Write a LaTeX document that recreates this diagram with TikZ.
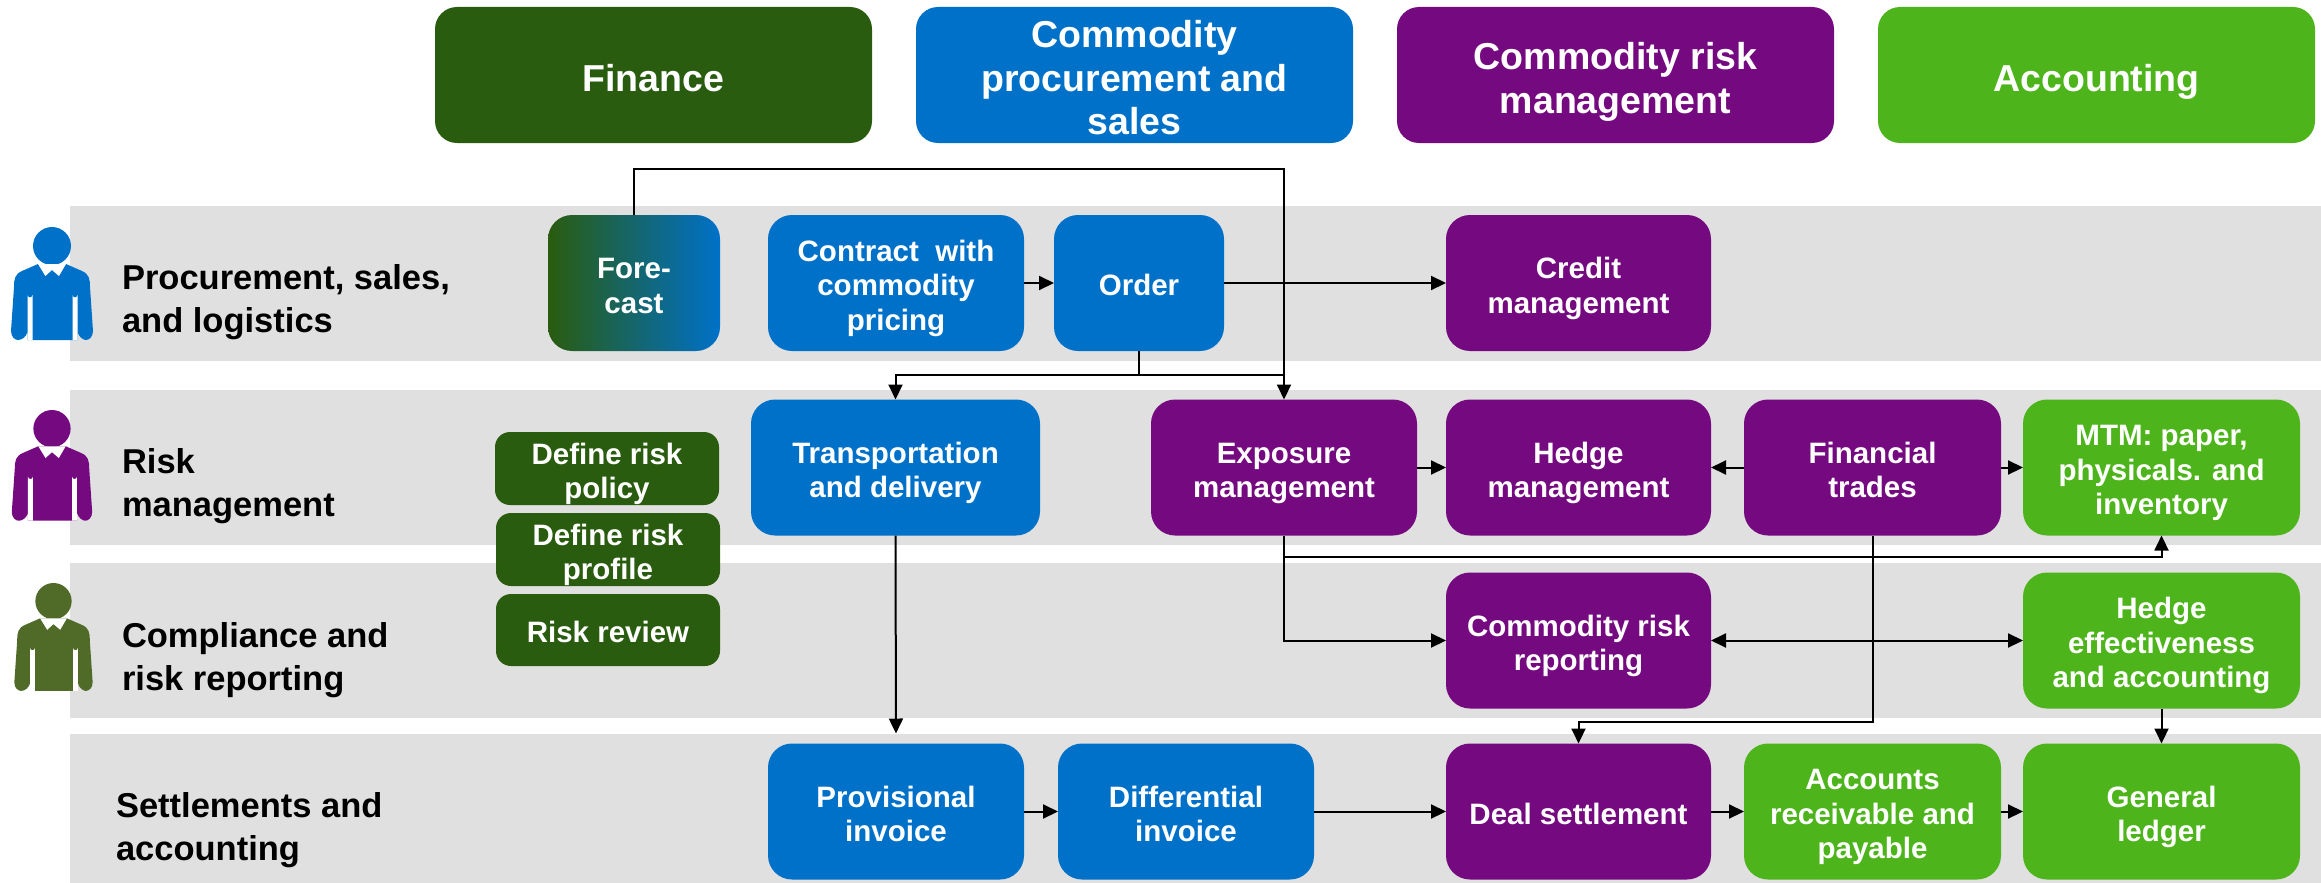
\documentclass[tikz,border=0pt]{standalone}
\usepackage{fontspec}
\setmainfont{Liberation Sans}
\usetikzlibrary{arrows.meta,positioning}
\definecolor{fingreen}{HTML}{2A5C0F}
\definecolor{procblue}{HTML}{0071C9}
\definecolor{riskpurple}{HTML}{750A80}
\definecolor{acctgreen}{HTML}{4DB51B}
\definecolor{bandgray}{HTML}{E0E0E0}
\definecolor{mangreen}{HTML}{506A28}
\newcommand{\lt}{\rule{0pt}{1.08em}}
\tikzstyle{bt} = [rectangle, text=white, align=center, inner sep=0pt, outer sep=0pt,
    rounded corners=24pt, minimum height=136pt,
    font=\fontsize{29.5}{34.5}\selectfont\bfseries,
    execute at end node={\rule[-6.3pt]{0pt}{0pt}}]
\tikzstyle{small} = [bt, fill=fingreen, rounded corners=15pt, minimum width=224pt, minimum height=73pt]
\tikzstyle{head} = [bt, rounded corners=22pt, minimum width=437pt, minimum height=136pt,
    font=\fontsize{37.5}{43.5}\selectfont\bfseries,
    execute at end node={\rule[-8pt]{0pt}{0pt}}]
\tikzstyle{lane} = [anchor=west, align=left, inner sep=0pt, outer sep=0pt,
    font=\fontsize{34.5}{43}\selectfont\bfseries]
\tikzset{person/.pic={
  \fill[pic actions] (0,19) ellipse (19 and 19);
  \fill[pic actions] (-14,37) -- (-30,44) .. controls (-37,47) and (-38,52) .. (-38,60) -- (-41,104)
    .. controls (-41,110) and (-37,113) .. (-34,113) .. controls (-30,113) and (-26,110) .. (-24.5,105)
    -- (-24.5,113) -- (25.5,113) -- (25.5,105) .. controls (27,110) and (31,113) .. (34,113)
    .. controls (37,113) and (41,110) .. (41,104) -- (38,60) .. controls (38,52) and (37,47) .. (30,44)
    -- (14,37) -- cycle;
  \fill[white] (-14,37) -- (-6.6,49) -- (0,43) -- (7,49) -- (14,37) -- cycle;
  \fill[white] (-24.5,113) -- (-24.5,68) arc (180:0:2.5) -- (-19.5,113) -- cycle;
  \fill[white] (20.5,113) -- (20.5,68) arc (180:0:2.5) -- (25.5,113) -- cycle;
}}

\begin{document}
\begin{tikzpicture}[x=1pt,y=-1pt,->,>={Stealth[length=15pt,width=14pt,inset=0pt]},line width=2pt]

  \useasboundingbox (0,0) rectangle (2321,883);

  % lanes
  \fill[bandgray] (70,206) rectangle (2321,361);
  \fill[bandgray] (70,390) rectangle (2321,545);
  \fill[bandgray] (70,563) rectangle (2321,718);
  \fill[bandgray] (70,734) rectangle (2321,883);

  \pic[fill=procblue] (man1) at (52,227) {person};
  \pic[fill=riskpurple,scale=.98] (man2) at (52,410) {person};
  \pic[fill=mangreen,scale=.955] (man3) at (53.5,583) {person};

  \node[lane] (lane1) at (122,302) {Procurement, sales,\\and logistics};
  \node[lane] (lane2) at (122,486.5) {Risk\\management};
  \node[lane] (lane3) at (122,660) {Compliance and\\risk reporting};
  \node[lane] (lane4) at (116,830) {Settlements and\\accounting};

  % headers
  \node[head,fill=fingreen]   (finance) at (653.5,75) {\lt Finance};
  \node[head,fill=procblue]   (procure) [right=44pt of finance] {\lt Commodity\\procurement and\\sales};
  \node[head,fill=riskpurple] (riskhd)  [right=44pt of procure] {\lt Commodity risk\\management};
  \node[head,fill=acctgreen]  (acct)    [right=44pt of riskhd] {\lt Accounting};

  % first lane
  \node[bt,left color=fingreen,right color=procblue,minimum width=172pt] (forecast) at (634,283) {\lt Fore-\\cast};
  \node[bt,fill=procblue,minimum width=256pt] (contract) at (896,283) {\lt Contract~ with\\commodity\\pricing};
  \node[bt,fill=procblue,minimum width=170pt] (order) [right=30pt of contract] {\lt Order};
  \node[bt,fill=riskpurple,minimum width=265pt] (credit) [right=222pt of order] {\lt Credit\\management};

  % second lane
  \node[small] (policy) at (607,468.5) {\lt Define risk\\policy};
  \node[small] (profile) at (608,549.5) {\lt Define risk\\profile};
  \node[small,minimum height=72pt] (review) at (608,630) {\lt Risk review};
  \node[bt,fill=procblue,minimum width=289pt] (transport) at (895.5,467.5) {\lt Transportation\\and delivery};
  \node[bt,fill=riskpurple,minimum width=266pt] (exposure) at (1284,467.5) {\lt Exposure\\management};
  \node[bt,fill=riskpurple,minimum width=265pt] (hedgem) [right=29pt of exposure] {\lt Hedge\\management};
  \node[bt,fill=riskpurple,minimum width=257pt] (trades) [right=33pt of hedgem] {\lt Financial\\trades};
  \node[bt,fill=acctgreen,minimum width=277pt] (mtm) [right=22pt of trades] {\lt MTM: paper,\\physicals. and\\inventory};

  % third lane
  \node[bt,fill=riskpurple,minimum width=265pt] (reporting) [below=37pt of hedgem] {\lt Commodity risk\\reporting};
  \node[bt,fill=acctgreen,minimum width=277pt] (effect) [below=37pt of mtm] {\lt Hedge\\effectiveness\\and accounting};

  % fourth lane
  \node[bt,fill=riskpurple,minimum width=265pt] (deal) [below=35pt of reporting] {\lt Deal settlement};
  \node[bt,fill=acctgreen,minimum width=257pt] (payable) [right=33pt of deal] {\lt Accounts\\receivable and\\payable};
  \node[bt,fill=acctgreen,minimum width=277pt] (ledger) [right=22pt of payable] {\lt General\\ledger};
  \node[bt,fill=procblue,minimum width=256pt] (differ) [left=132pt of deal] {\lt Differential\\invoice};
  \node[bt,fill=procblue,minimum width=256pt] (provis) [left=34pt of differ] {\lt Provisional\\invoice};

  \coordinate (toptap) at (forecast.north |- 0,169);
  \coordinate (ordertap) at (order.south |- 0,375);
  \coordinate (exptap) at (exposure.south |- 0,557);
  \coordinate (tradetap) at (trades.south |- 0,722);

  \draw (forecast.north) -- (toptap) -| (exposure.north);
  \draw (order.south) -- (ordertap) -| (transport.north);
  \draw[-] (ordertap) -- (ordertap -| exposure.north);
  \draw (exposure.south) -- (exptap) -| (mtm.south);
  \draw (exptap) |- (reporting.west);
  \draw (trades.south) -- (tradetap) -| (deal.north);
  \draw[shorten >=10pt] (transport.south) -- (provis.north);

  \path (contract) edge (order)
        (order) edge (credit)
        (exposure) edge (hedgem)
        (trades) edge (hedgem)
        (trades) edge (mtm)
        (reporting) edge[<->] (effect)
        (effect) edge (ledger)
        (provis) edge (differ)
        (differ) edge (deal)
        (deal) edge (payable)
        (payable) edge (ledger);
\end{tikzpicture}
\end{document}
